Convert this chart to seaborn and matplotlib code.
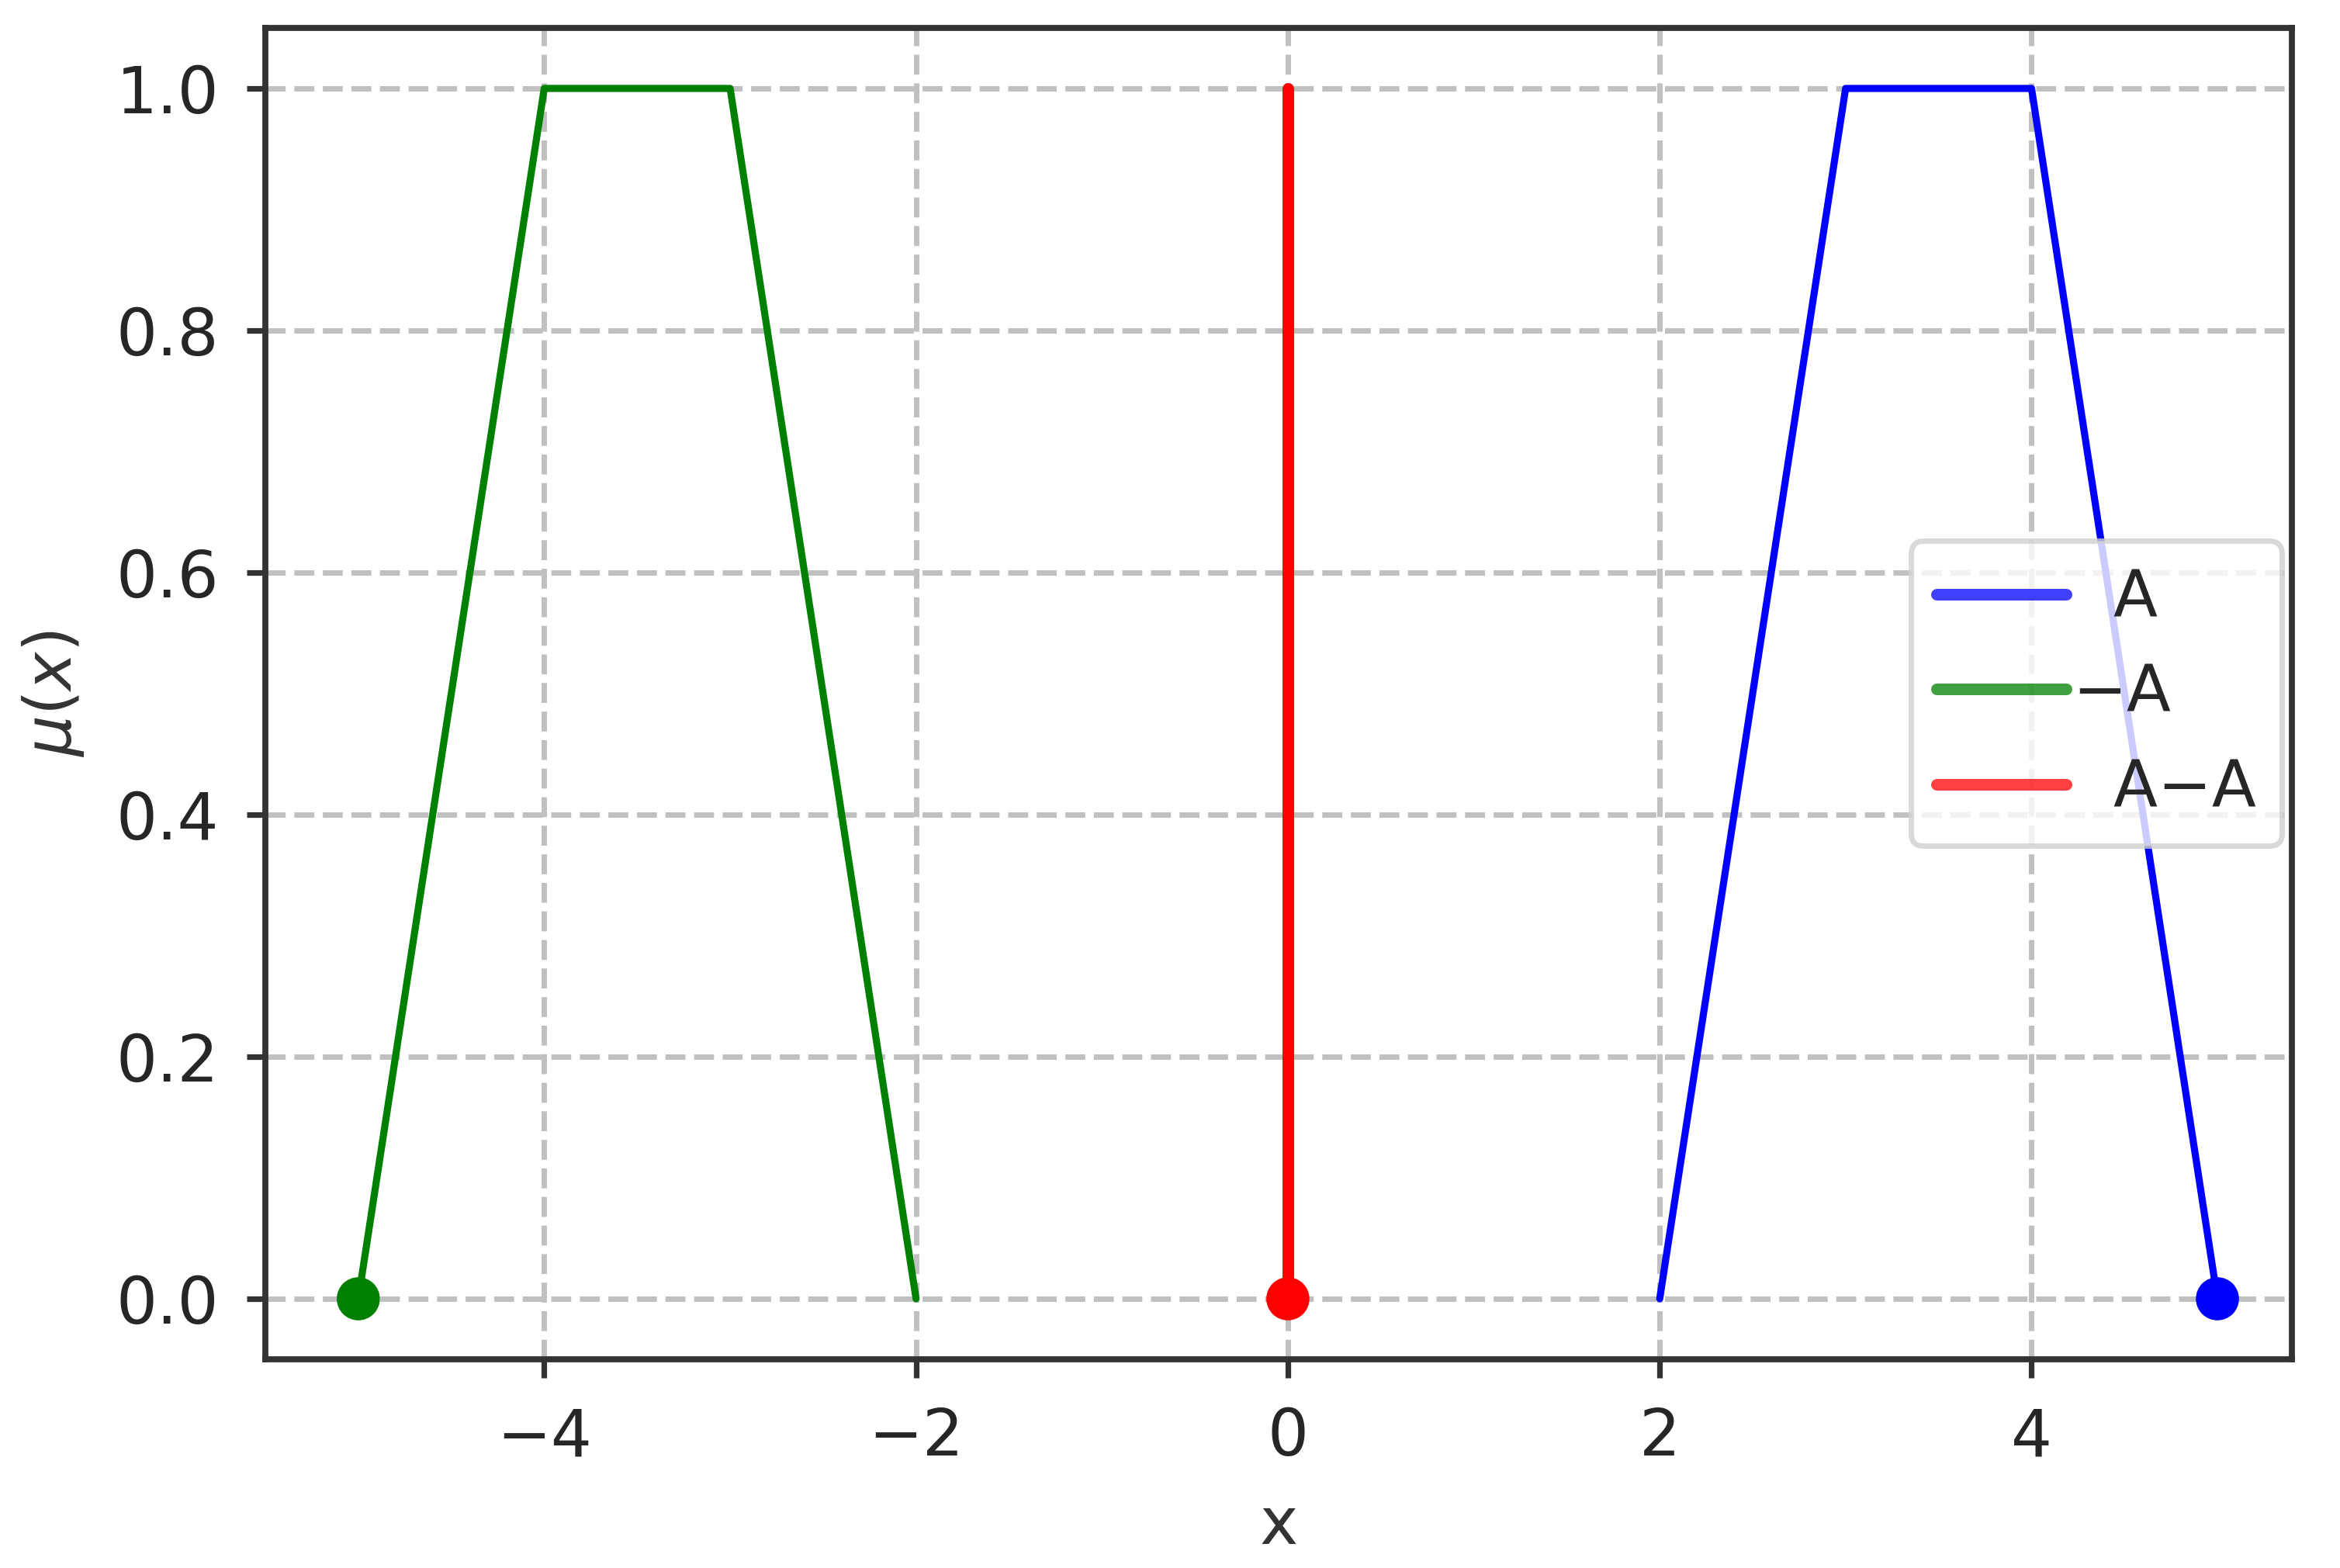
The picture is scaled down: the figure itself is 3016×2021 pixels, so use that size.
import seaborn as sns
import matplotlib.pyplot as plt
import pandas as pd

# membership functions
x_a = [2, 3, 4, 5]
mu_a = [0, 1, 1, 0]
x_neg = [-5, -4, -3, -2]
mu_neg = [0, 1, 1, 0]
x_diff = [0, 0]
mu_diff = [0, 1]

# singleton points at mu=0
dot_x = [-5, 0, 5]
dot_y = [0, 0, 0]
dot_colors = ["green", "red", "blue"]

labels = ["  A", "\u2212A", "  A\u2212A"]
x_ticks = [-4, -2, 0, 2, 4]
y_ticks = [0.0, 0.2, 0.4, 0.6, 0.8, 1.0]


def main():
    sns.set_style("ticks")
    plt.rcParams["font.family"] = ["DejaVu Sans"]
    plt.rcParams["axes.edgecolor"] = "#333333"
    plt.rcParams["axes.linewidth"] = 2.8
    plt.rcParams["xtick.major.width"] = 2.6
    plt.rcParams["ytick.major.width"] = 2.6
    plt.rcParams["xtick.major.size"] = 8.6
    plt.rcParams["ytick.major.size"] = 8.6
    plt.rcParams["xtick.color"] = "#333333"
    plt.rcParams["ytick.color"] = "#333333"
    plt.rcParams["xtick.labelcolor"] = "#262626"
    plt.rcParams["ytick.labelcolor"] = "#262626"

    f, ax = plt.subplots(figsize=(15.08, 10.105), dpi=200)
    f.subplots_adjust(left=0.1134, right=0.9794, bottom=0.1331, top=0.9822)

    df_a = pd.DataFrame({"x": x_a, "y": mu_a})
    df_neg = pd.DataFrame({"x": x_neg, "y": mu_neg})
    df_diff = pd.DataFrame({"x": x_diff, "y": mu_diff})

    sns.lineplot(data=df_a, x="x", y="y", color="blue", lw=3.3,
                 estimator=None, sort=False, label=labels[0], ax=ax, zorder=3)
    sns.lineplot(data=df_neg, x="x", y="y", color="green", lw=3.3,
                 estimator=None, sort=False, label=labels[1], ax=ax, zorder=3)
    sns.lineplot(data=df_diff, x="x", y="y", color="red", lw=5.4,
                 estimator=None, sort=False, label=labels[2], ax=ax, zorder=3)

    dots = pd.DataFrame({"x": dot_x, "y": dot_y, "c": dot_colors})
    sns.scatterplot(data=dots, x="x", y="y", hue="c", palette=dot_colors,
                    s=400, edgecolor="none", legend=False, ax=ax, zorder=4)

    ax.set_xlim(-5.5, 5.4)
    ax.set_ylim(-0.05, 1.05)
    ax.set_xticks(x_ticks)
    ax.set_yticks(y_ticks)
    ax.set_xticklabels(["\u22124", "\u22122", "0", "2", "4"])
    ax.set_yticklabels([f"{v:.1f}" for v in y_ticks])
    ax.tick_params(labelsize=30, pad=13)
    ax.grid(True, linestyle="--", color="#c0c0c0", lw=2.5)
    ax.set_axisbelow(True)
    ax.set_xlabel("x", fontsize=30, color="#333333", labelpad=12)
    ax.set_ylabel(r"$\mu(x)$", fontsize=30, color="#333333", labelpad=14)

    leg = ax.legend(loc="center right", fontsize=30, borderaxespad=0.15,
                    handletextpad=0.1, framealpha=0.8, edgecolor="#d0d0d0",
                    fancybox=True)
    leg.get_frame().set_linewidth(2.5)
    for h in leg.get_lines():
        h.set_linewidth(5.4)
        h.set_alpha(0.75)

    f.savefig("out.png", dpi=200)


if __name__ == '__main__':
    main()
